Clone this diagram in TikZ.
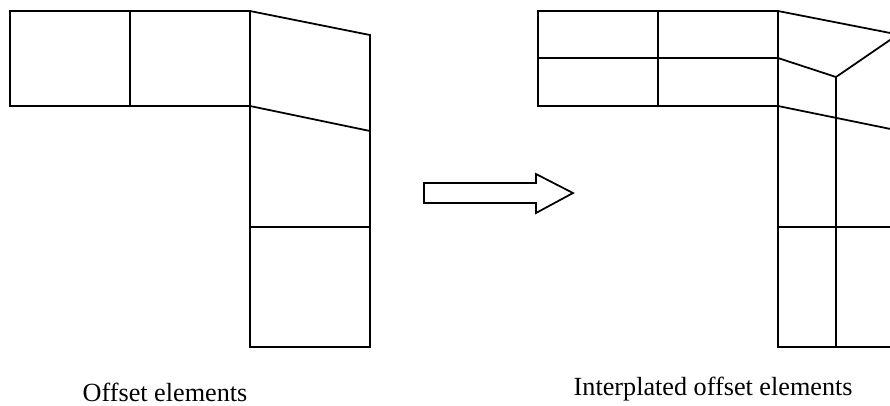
\documentclass[tikz,border=0pt]{standalone}
\usepackage{fontspec}
\setmainfont{Liberation Serif}
\tikzset{
    mesh/.style={black, line width=0.5pt, line join=miter},
    caption/.style={anchor=base west, inner sep=0pt, font=\fontsize{7.45}{9}\selectfont},
}
\begin{document}
\begin{tikzpicture}[x=0.01cm, y=-0.01cm]
    \useasboundingbox (0,0) rectangle (890,405);
    \clip (0,0) rectangle (890,405);

    % offset elements
    \draw[mesh] (10,11) rectangle (250,106);
    \draw[mesh] (130,11) -- (130,106);
    \draw[mesh] (250,11) -- (370,35) -- (370,347) -- (250,347) -- (250,106);
    \draw[mesh] (250,106) -- (370,131);
    \draw[mesh] (250,227) -- (370,227);

    % interpolated offset elements
    \draw[mesh] (538,11) rectangle (778,106);
    \draw[mesh] (658,11) -- (658,106);
    \draw[mesh] (538,58) -- (778,58) -- (836,77) -- (898,34.5);
    \draw[mesh] (778,11) -- (898,34.5) -- (898,347) -- (778,347) -- (778,106);
    \draw[mesh] (778,106) -- (898,130.5);
    \draw[mesh] (778,227) -- (898,227);
    \draw[mesh] (836,77) -- (836,347);

    \draw[mesh] (424,183) -- (536,183) -- (536,174) -- (573,193) -- (536,213) -- (536,203) -- (424,203) -- cycle;

    \node[caption] (leftcaption) at (82,401) {Offset elements};
    \node[caption] (rightcaption) at (573,395) {Interplated offset elements};
\end{tikzpicture}
\end{document}
